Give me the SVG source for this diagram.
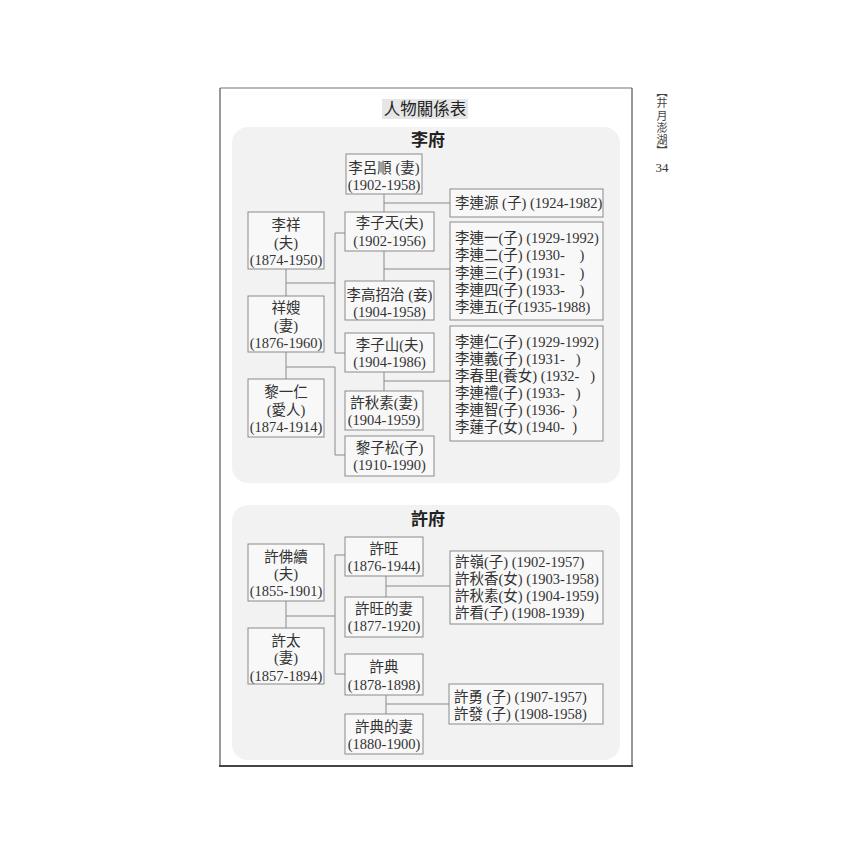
<svg xmlns="http://www.w3.org/2000/svg" width="852" height="852" viewBox="0 0 852 852">
<style>
.bg{fill:#ffffff}
.panel{fill:#f2f2f2}
.box{fill:#f8f8f8;stroke:#8a8a8a;stroke-width:1}
.t{font-family:"Liberation Serif","Noto Sans CJK TC",serif;font-size:14.5px;fill:#333;white-space:pre}
.c{text-anchor:middle}
.h{font-family:"Liberation Serif","Noto Sans CJK TC",serif;font-size:17px;font-weight:bold;fill:#222;text-anchor:middle}
.ln{fill:none;stroke:#8a8a8a;stroke-width:1}
.m{font-family:"Liberation Serif","Noto Sans CJK TC",serif;font-size:11px;fill:#444;text-anchor:middle}
</style>
<rect x="0" y="0" width="852" height="852" class="bg"/>
<g id="frame">
<line x1="220" y1="88" x2="632" y2="88" stroke="#777" stroke-width="1.2"/>
<line x1="220" y1="88" x2="220" y2="766" stroke="#555" stroke-width="1.2"/>
<line x1="632" y1="88" x2="632" y2="766" stroke="#555" stroke-width="1.2"/>
<line x1="219" y1="766" x2="633" y2="766" stroke="#444" stroke-width="2"/>
</g>
<g id="margin">
<text class="m" x="662" y="96">︻</text>
<text class="m" x="662" y="107">井</text>
<text class="m" x="662" y="120">月</text>
<text class="m" x="662" y="132">澎</text>
<text class="m" x="662" y="144">湖</text>
<text class="m" x="662" y="155">︼</text>
<text x="662" y="172" text-anchor="middle" font-family="Liberation Serif,'Noto Sans CJK TC',serif" font-size="13" fill="#333">34</text>
</g>
<g id="title">
<rect x="382" y="99" width="86" height="20" fill="#e6e6e6"/>
<text x="425" y="115" text-anchor="middle" font-family="Liberation Serif,'Noto Sans CJK TC',serif" font-size="16.5" fill="#222">人物關係表</text>
</g>
<g id="panels">
<rect x="232" y="127" width="388" height="356" rx="16" class="panel"/>
<text x="428" y="146" class="h">李府</text>
<rect x="232" y="505" width="388" height="255" rx="16" class="panel"/>
<text x="428" y="525" class="h">許府</text>
</g>
<g id="connectors">
<path class="ln" d="M384 194V212M384 203H450"/>
<path class="ln" d="M384 251V281M384 269H450"/>
<path class="ln" d="M286 269V296M286 283H335M345 233H335V353H345"/>
<path class="ln" d="M286 352V379M286 367H335V455H345"/>
<path class="ln" d="M384 372V391M384 381H450"/>
<path class="ln" d="M386 576V597M386 586H450"/>
<path class="ln" d="M386 695V714M386 704H449"/>
<path class="ln" d="M286 601V628M286 616H335M345 555H335V674H345"/>
</g>
<g id="n-lilushun"><rect x="346" y="154" width="76" height="40" class="box"/><text class="t c" x="384" y="173">李呂順 (妻)<tspan x="384" dy="17">(1902-1958)</tspan></text></g>
<g id="n-lizitian"><rect x="345" y="212" width="89" height="39" class="box"/><text class="t c" x="389.5" y="228">李子天(夫)<tspan x="389.5" dy="17.5">(1902-1956)</tspan></text></g>
<g id="n-ligaozhaozhi"><rect x="345" y="281" width="89" height="39" class="box"/><text class="t c" x="389.5" y="300">李高招治 (妾)<tspan x="389.5" dy="17">(1904-1958)</tspan></text></g>
<g id="n-lixiang"><rect x="248" y="212" width="76" height="57" class="box"/><text class="t c" x="286" y="230">李祥<tspan x="286" dy="17.5">(夫)</tspan><tspan x="286" dy="17.5">(1874-1950)</tspan></text></g>
<g id="n-xiangsao"><rect x="248" y="296" width="76" height="56" class="box"/><text class="t c" x="286" y="313">祥嫂<tspan x="286" dy="17.5">(妻)</tspan><tspan x="286" dy="17.5">(1876-1960)</tspan></text></g>
<g id="n-liyiren"><rect x="248" y="379" width="76" height="58" class="box"/><text class="t c" x="286" y="397">黎一仁<tspan x="286" dy="17.5">(愛人)</tspan><tspan x="286" dy="17.5">(1874-1914)</tspan></text></g>
<g id="n-lizishan"><rect x="345" y="333" width="89" height="39" class="box"/><text class="t c" x="389.5" y="350">李子山(夫)<tspan x="389.5" dy="17">(1904-1986)</tspan></text></g>
<g id="n-xuqiusu-wife"><rect x="345" y="391" width="78" height="39" class="box"/><text class="t c" x="384" y="408">許秋素(妻)<tspan x="384" dy="16.5">(1904-1959)</tspan></text></g>
<g id="n-lizisong"><rect x="345" y="436" width="89" height="40" class="box"/><text class="t c" x="389.5" y="453">黎子松(子)<tspan x="389.5" dy="17">(1910-1990)</tspan></text></g>
<g id="n-lilianyuan"><rect x="450" y="189" width="153" height="28" class="box"/><text class="t" x="455" y="208">李連源 (子) (1924-1982)</text></g>
<g id="n-lianyi-group"><rect x="450" y="222" width="153" height="98" class="box"/><text class="t" x="455" y="243">李連一(子) (1929-1992)<tspan x="455" dy="17.25">李連二(子) (1930-&#160;&#160;&#160;&#160;)</tspan><tspan x="455" dy="17.25">李連三(子) (1931-&#160;&#160;&#160;&#160;)</tspan><tspan x="455" dy="17.25">李連四(子) (1933-&#160;&#160;&#160;&#160;)</tspan><tspan x="455" dy="17.25">李連五(子(1935-1988)</tspan></text></g>
<g id="n-lianren-group"><rect x="450" y="326" width="153" height="115" class="box"/><text class="t" x="455" y="347">李連仁(子) (1929-1992)<tspan x="455" dy="17">李連義(子) (1931-&#160;&#160;&#160;)</tspan><tspan x="455" dy="17">李春里(養女) (1932-&#160;&#160;&#160;)</tspan><tspan x="455" dy="17">李連禮(子) (1933-&#160;&#160;&#160;)</tspan><tspan x="455" dy="17">李連智(子) (1936-&#160;&#160;)</tspan><tspan x="455" dy="17">李蓮子(女) (1940-&#160;&#160;)</tspan></text></g>
<g id="n-xufoxu"><rect x="248" y="544" width="76" height="57" class="box"/><text class="t c" x="286" y="562">許佛續<tspan x="286" dy="17">(夫)</tspan><tspan x="286" dy="17">(1855-1901)</tspan></text></g>
<g id="n-xutai"><rect x="248" y="628" width="76" height="56" class="box"/><text class="t c" x="286" y="645.5">許太<tspan x="286" dy="17.5">(妻)</tspan><tspan x="286" dy="17.5">(1857-1894)</tspan></text></g>
<g id="n-xuwang"><rect x="345" y="537" width="78" height="39" class="box"/><text class="t c" x="384" y="553.5">許旺<tspan x="384" dy="17">(1876-1944)</tspan></text></g>
<g id="n-xuwang-wife"><rect x="345" y="597" width="78" height="40" class="box"/><text class="t c" x="384" y="613.5">許旺的妻<tspan x="384" dy="17">(1877-1920)</tspan></text></g>
<g id="n-xudian"><rect x="345" y="654" width="78" height="41" class="box"/><text class="t c" x="384" y="672">許典<tspan x="384" dy="17.5">(1878-1898)</tspan></text></g>
<g id="n-xudian-wife"><rect x="345" y="714" width="78" height="40" class="box"/><text class="t c" x="384" y="732">許典的妻<tspan x="384" dy="17">(1880-1900)</tspan></text></g>
<g id="n-xuling-group"><rect x="450" y="551" width="153" height="73" class="box"/><text class="t" x="455" y="567">許嶺(子) (1902-1957)<tspan x="455" dy="17">許秋香(女) (1903-1958)</tspan><tspan x="455" dy="17">許秋素(女) (1904-1959)</tspan><tspan x="455" dy="17">許看(子) (1908-1939)</tspan></text></g>
<g id="n-xuyong-group"><rect x="449" y="684" width="154" height="40" class="box"/><text class="t" x="454" y="702">許勇 (子) (1907-1957)<tspan x="454" dy="17">許發 (子) (1908-1958)</tspan></text></g>
</svg>
